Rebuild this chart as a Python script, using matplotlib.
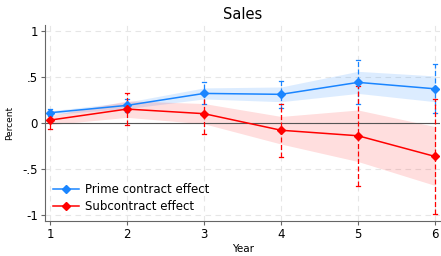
import matplotlib
matplotlib.use("Agg")
import matplotlib.pyplot as plt

years = [1, 2, 3, 4, 5, 6]

prime_est = [0.11, 0.19, 0.32, 0.31, 0.44, 0.37]
prime_ci_lo = [0.07, 0.12, 0.20, 0.16, 0.21, 0.105]
prime_ci_hi = [0.15, 0.26, 0.44, 0.46, 0.68, 0.64]
prime_band_lo = [0.09, 0.155, 0.26, 0.23, 0.32, 0.23]
prime_band_hi = [0.13, 0.225, 0.38, 0.39, 0.56, 0.51]

sub_est = [0.03, 0.15, 0.10, -0.08, -0.14, -0.365]
sub_ci_lo = [-0.07, -0.02, -0.12, -0.37, -0.685, -0.99]
sub_ci_hi = [0.13, 0.32, 0.32, 0.21, 0.405, 0.26]
sub_band_lo = [-0.02, 0.06, -0.01, -0.23, -0.42, -0.68]
sub_band_hi = [0.08, 0.24, 0.21, 0.07, 0.14, -0.04]

yticks = [-1, -0.5, 0, 0.5, 1]
ytick_labels = ["-1", "-.5", "0", ".5", "1"]

blue = "#1a85ff"
red = "#ff0000"

fig = plt.figure(figsize=(4.41, 2.56), dpi=100)
ax = fig.add_axes([0.102, 0.137, 0.896, 0.766])

# bands
ax.fill_between(years, prime_band_lo, prime_band_hi, color=blue, alpha=0.15, lw=0)
ax.fill_between(years, sub_band_lo, sub_band_hi, color=red, alpha=0.13, lw=0)

ax.axhline(0, color="#555555", lw=0.8, zorder=1)


def draw_ci(lo, hi, color):
    for x, a, b in zip(years, lo, hi):
        ax.plot([x, x], [a, b], color=color, lw=0.9, ls=(0, (4, 2)), zorder=2)
        ax.plot([x - 0.03, x + 0.03], [a, a], color=color, lw=0.9, zorder=2)
        ax.plot([x - 0.03, x + 0.03], [b, b], color=color, lw=0.9, zorder=2)


draw_ci(prime_ci_lo, prime_ci_hi, blue)
draw_ci(sub_ci_lo, sub_ci_hi, red)

ax.plot(years, prime_est, color=blue, marker="D", ms=4.5, lw=1.1,
        label="Prime contract effect", zorder=3)
ax.plot(years, sub_est, color=red, marker="D", ms=4.5, lw=1.1,
        label="Subcontract effect", zorder=3)

ax.set_xlim(0.935, 6.065)
ax.set_ylim(-1.065, 1.065)
ax.set_xticks(years)
ax.set_yticks(yticks)
ax.set_yticklabels(ytick_labels)
ax.grid(True, color="#e6e6e6", ls=(0, (5, 4)), lw=0.8)
ax.set_axisbelow(True)
for s in ["top", "right"]:
    ax.spines[s].set_visible(False)
for s in ["left", "bottom"]:
    ax.spines[s].set_color("#666666")
    ax.spines[s].set_linewidth(0.8)
ax.tick_params(labelsize=8.5, color="#666666", length=3, width=0.8, pad=2)

ax.set_title("Sales", fontsize=10.5, pad=4)
ax.set_xlabel("Year", fontsize=7.5, labelpad=2)
ax.set_ylabel("Percent", fontsize=6.5, labelpad=6)

ax.legend(loc="lower left", frameon=False, fontsize=8.5, handlelength=2.2,
          handletextpad=0.5, labelspacing=0.3, borderaxespad=0.3,
          bbox_to_anchor=(0.0, 0.0))

fig.savefig("out.png", dpi=100)
